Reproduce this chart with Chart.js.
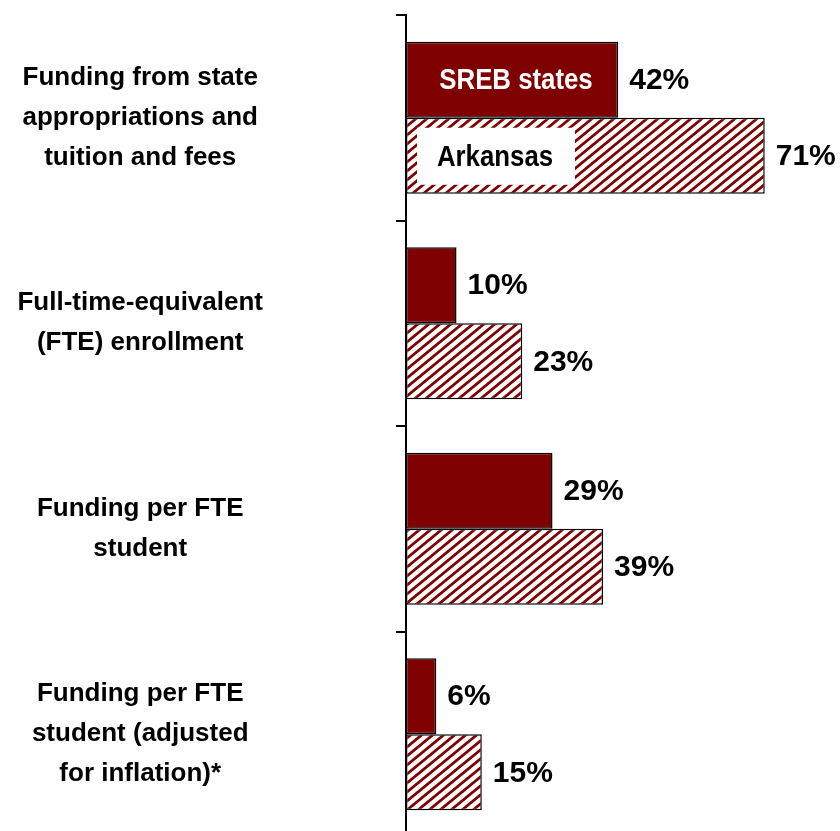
<!DOCTYPE html>
<html>
<head>
<meta charset="utf-8">
<script src="https://cdn.jsdelivr.net/npm/chart.js@4"></script>
<style>
    html, body { margin: 0; padding: 0; background: #fff; overflow: hidden; }
    #wrap { width: 840px; height: 840px; position: relative; }
</style>
</head>
<body>
<div id="wrap"><canvas id="chart"></canvas></div>
<script>
// Category labels (multi-line) and series values (percent change)
const categories = [
    ['Funding from state', 'appropriations and', 'tuition and fees'],
    ['Full-time-equivalent', '(FTE) enrollment'],
    ['Funding per FTE', 'student'],
    ['Funding per FTE', 'student (adjusted', 'for inflation)*']
];
const srebValues = [42, 10, 29, 6];
const arkansasValues = [71, 23, 39, 15];
const seriesNames = ['SREB states', 'Arkansas'];

const DARK_RED = '#7f0000';
const FONT = '"Liberation Sans", Arial, sans-serif';

// Diagonal hatch for the Arkansas bars
function makeHatch() {
    const w = 11, h = 9;
    const c = document.createElement('canvas');
    c.width = w;
    c.height = h;
    const g = c.getContext('2d');
    g.fillStyle = '#fff';
    g.fillRect(0, 0, w, h);
    g.strokeStyle = DARK_RED;
    g.lineWidth = 2.8;
    g.beginPath();
    // main diagonal plus the wrapped corners so the tiles join up
    g.moveTo(-w, 2 * h); g.lineTo(2 * w, -h);
    g.moveTo(-w, h); g.lineTo(w, -h);
    g.moveTo(0, 2 * h); g.lineTo(2 * w, 0);
    g.stroke();
    return g.createPattern(c, 'repeat');
}

// draw text squeezed horizontally (the original uses a condensed face)
function narrowText(ctx, text, cx, cy, squeeze) {
    ctx.save();
    ctx.translate(cx, cy);
    ctx.scale(squeeze, 1);
    ctx.fillText(text, 0, 0);
    ctx.restore();
}

// Value labels to the right of each bar, and the series names inside the first pair
const barLabels = {
    id: 'barLabels',
    afterDatasetsDraw(chart) {
        const ctx = chart.ctx;
        ctx.save();
        chart.data.datasets.forEach((ds, di) => {
            const meta = chart.getDatasetMeta(di);
            meta.data.forEach((bar, i) => {
                ctx.font = 'bold 30px ' + FONT;
                ctx.fillStyle = '#000';
                ctx.textAlign = 'left';
                ctx.textBaseline = 'middle';
                ctx.fillText(ds.data[i] + '%', bar.x + 11, bar.y + 1);
            });
        });

        // series names inside the first category's bars
        const b0 = chart.getDatasetMeta(0).data[0];
        const b1 = chart.getDatasetMeta(1).data[0];
        ctx.font = 'bold 30px ' + FONT;
        ctx.textAlign = 'center';
        ctx.textBaseline = 'middle';
        ctx.fillStyle = '#fff';
        narrowText(ctx, seriesNames[0], b0.base + 110, b0.y + 1, 0.86);

        const h = b1.height;
        ctx.fillStyle = '#fff';
        ctx.fillRect(b1.base + 11, b1.y - h / 2 + 10, 158, h - 19);
        ctx.fillStyle = '#000';
        narrowText(ctx, seriesNames[1], b1.base + 89, b1.y + 2, 0.86);
        ctx.restore();
    }
};

const ctx = document.getElementById('chart');
new Chart(ctx, {
    type: 'bar',
    data: {
        labels: categories,
        datasets: [
            {
                label: seriesNames[0],
                data: srebValues,
                backgroundColor: DARK_RED,
                borderColor: '#000',
                borderWidth: 1.5,
                borderSkipped: false
            },
            {
                label: seriesNames[1],
                data: arkansasValues,
                backgroundColor: makeHatch(),
                borderColor: '#000',
                borderWidth: 1.5,
                borderSkipped: false
            }
        ]
    },
    options: {
        indexAxis: 'y',
        responsive: true,
        maintainAspectRatio: false,
        animation: false,
        layout: { padding: { top: 15, bottom: 3, right: 2, left: 0 } },
        datasets: {
            bar: { categoryPercentage: 0.74, barPercentage: 1 }
        },
        plugins: {
            legend: { display: false },
            tooltip: { enabled: false }
        },
        scales: {
            x: {
                display: false,
                min: 0,
                max: 85.5
            },
            y: {
                afterFit(scale) {
                    scale.width = 406;
                    scale.paddingTop = 0;
                    scale.paddingBottom = 0;
                },
                grid: {
                    drawOnChartArea: false,
                    drawTicks: true,
                    tickLength: 10,
                    color: '#000',
                    lineWidth: 2
                },
                border: { display: true, color: '#000', width: 2 },
                ticks: {
                    crossAlign: 'center',
                    padding: 133,
                    color: '#000',
                    font: { family: FONT, size: 26, weight: 'bold', lineHeight: 1.54 }
                }
            }
        }
    },
    plugins: [barLabels]
});
</script>
</body>
</html>
